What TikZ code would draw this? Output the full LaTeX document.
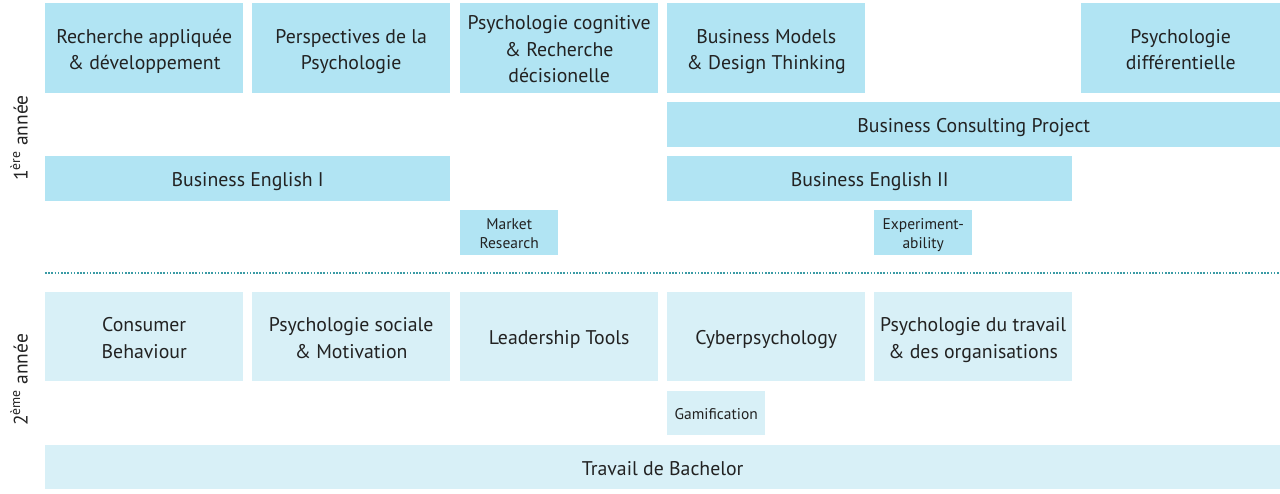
\documentclass[tikz,border=0pt]{standalone}
\usepackage{fontspec}
\setmainfont{PT Sans}
\definecolor{yearone}{HTML}{B1E4F3}
\definecolor{yeartwo}{HTML}{D8F0F7}
\definecolor{dotline}{HTML}{3A9BA5}
\definecolor{txt}{HTML}{222222}
\newcommand\bx[1]{\raisebox{0pt}[\dimexpr\height+5.5pt\relax][\depth]{\begin{tabular}{@{}c@{}}#1\end{tabular}}}
\tikzset{
  base/.style={anchor=north west, inner sep=0pt, text=txt,
    font=\fontsize{19.8}{26.5}\selectfont},
  boxa/.style={base, fill=yearone},
  boxb/.style={base, fill=yeartwo},
  small/.style={font=\fontsize{15.5}{19}\selectfont},
  yearlabel/.style={rotate=90, text=txt, font=\fontsize{19.5}{20}\selectfont, inner sep=0pt},
}
\begin{document}
\begin{tikzpicture}[x=1pt,y=-1pt]
\useasboundingbox (0,0) rectangle (1280,493);
% year 1
\node[boxa, minimum width=198, minimum height=90] (ra) at (45,3) {\bx{Recherche appliquée\\\& développement}};
\node[boxa, minimum width=198, minimum height=90] (pp) at (252,3) {\bx{Perspectives de la\\Psychologie}};
\node[boxa, minimum width=198, minimum height=90] (pc) at (460,3) {\bx{Psychologie cognitive\\\& Recherche\\décisionelle}};
\node[boxa, minimum width=198, minimum height=90] (bm) at (667,3) {\bx{Business Models\\\& Design Thinking}};
\node[boxa, minimum width=199, minimum height=90] (pd) at (1081,3) {\bx{Psychologie\\différentielle}};
\node[boxa, minimum width=613, minimum height=45] (bc) at (667,102) {\bx{Business Consulting Project}};
\node[boxa, minimum width=405, minimum height=45] (be1) at (45,156) {\bx{Business English I}};
\node[boxa, minimum width=405, minimum height=45] (be2) at (667,156) {\bx{Business English II}};
\node[boxa, small, minimum width=98, minimum height=45] (mr) at (460,210) {\bx{Market\\Research}};
\node[boxa, small, minimum width=98, minimum height=45] (ex) at (874,210) {\bx{Experiment-\\ability}};
% separator
\coordinate (s1) at (45,273);
\coordinate (s2) at (1280,273);
\draw[dotline, line width=1.6pt, dash pattern=on 1.6pt off 1.6pt] (s1) -- (s2);
% year 2
\node[boxb, minimum width=198, minimum height=89] (cb) at (45,292) {\bx{Consumer\\Behaviour}};
\node[boxb, minimum width=198, minimum height=89] (ps) at (252,292) {\bx{Psychologie sociale\\\& Motivation}};
\node[boxb, minimum width=198, minimum height=89] (lt) at (460,292) {\bx{Leadership Tools}};
\node[boxb, minimum width=198, minimum height=89] (cy) at (667,292) {\bx{Cyberpsychology}};
\node[boxb, minimum width=198, minimum height=89] (pt) at (874,292) {\bx{Psychologie du travail\\\& des organisations}};
\node[boxb, small, minimum width=98, minimum height=44] (ga) at (667,391) {\bx{Gamification}};
\node[boxb, minimum width=1235, minimum height=44] (tb) at (45,445) {\bx{Travail de Bachelor}};
% year labels
\node[yearlabel] (y1) at (19,138) {1\textsuperscript{ère} année};
\node[yearlabel] (y2) at (19,380) {2\textsuperscript{ème} année};
\end{tikzpicture}
\end{document}
